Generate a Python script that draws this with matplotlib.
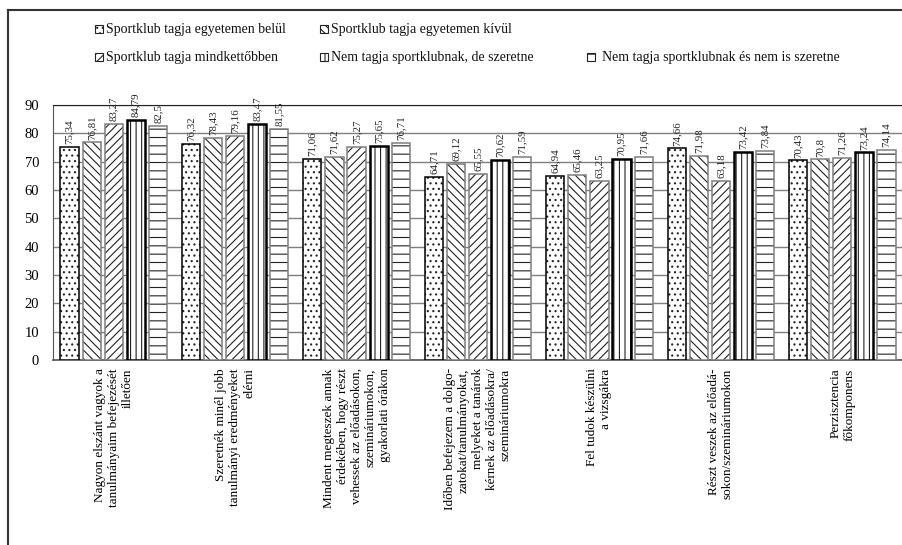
import matplotlib.pyplot as plt
from matplotlib.patches import Rectangle
from matplotlib.lines import Line2D
import numpy as np

plt.rcParams['font.family'] = ['Liberation Serif', 'DejaVu Serif']
plt.rcParams['hatch.linewidth'] = 0.8

categories = [
    'Nagyon elszánt vagyok a\ntanulmányaim befejezését\nilletően',
    'Szeretnék minél jobb\ntanulmányi eredményeket\nelérni',
    'Mindent megteszek annak\nérdekében, hogy részt\nvehessek az előadásokon,\nszemináriumokon,\ngyakorlati órákon',
    'Időben befejezem a dolgo-\nzatokat/tanulmányokat,\nmelyeket a tanárok\nkérnek az előadásokra/\nszemináriumokra',
    'Fel tudok készülni\na vizsgákra',
    'Részt veszek az előadá-\nsokon/szemináriumokon',
    'Perzisztencia\nfőkomponens',
]

series_names = [
    'Sportklub tagja egyetemen belül',
    'Sportklub tagja egyetemen kívül',
    'Sportklub tagja mindkettőbben',
    'Nem tagja sportklubnak, de szeretne',
    'Nem tagja sportklubnak és nem is szeretne',
]

belul = [75.34, 76.32, 71.06, 64.71, 64.94, 74.66, 70.43]
kivul = [76.81, 78.43, 71.62, 69.12, 65.46, 71.98, 70.8]
mindketto = [83.27, 79.16, 75.27, 65.55, 63.25, 63.18, 71.26]
nem_de = [84.79, 83.47, 75.65, 70.62, 70.95, 73.42, 73.24]
nem_nem = [82.5, 81.55, 76.71, 71.59, 71.66, 73.84, 74.14]
series = [belul, kivul, mindketto, nem_de, nem_nem]

yticks = list(range(0, 91, 10))

hatches = ['...', '\\\\\\\\', '////', '|||', '--']
edge_cols = ['black', '#7f7f7f', '#7f7f7f', 'black', '#7f7f7f']
edge_w = [1.1, 1.1, 1.1, 1.8, 1.1]

W, H = 903, 545
fig = plt.figure(figsize=(W / 100, H / 100), dpi=100)


def fx(px):
    return px / W


def fy(py):
    return 1 - py / H


ax = fig.add_axes([fx(53), fy(360), fx(903 - 53), (360 - 105) / H])

x = np.arange(len(categories))
step = 0.182
bw = 0.15
for k, vals in enumerate(series):
    pos = x + (k - 2) * step
    ax.bar(pos, vals, bw, color='white', edgecolor='#222222', hatch=hatches[k],
           linewidth=0, zorder=3)
    ax.bar(pos, vals, bw, fill=False, edgecolor=edge_cols[k],
           linewidth=edge_w[k], zorder=4)
    for xp, v in zip(pos, vals):
        ax.annotate(f'{v:g}'.replace('.', ','), (xp, v), xytext=(0, 2),
                    textcoords='offset points', rotation=90, ha='center',
                    va='bottom', fontsize=7.8, color='#222222')

ax.set_xlim(-0.5, 6.5)
ax.set_ylim(0, 90)
ax.set_yticks(yticks)
ax.set_xticks([])
ax.tick_params(axis='y', length=0, pad=10, labelsize=10.5)
ax.yaxis.grid(True, color='#7f7f7f', linewidth=1.0, zorder=0)
ax.set_axisbelow(True)
ax.spines['right'].set_visible(False)
ax.spines['top'].set_color('#222222')
ax.spines['left'].set_color('#555555')
ax.spines['bottom'].set_color('#555555')
ax.spines['bottom'].set_linewidth(1.2)

for xi, lab in zip(x, categories):
    ax.annotate(lab, (xi, 0), xytext=(0, -6), textcoords='offset points',
                rotation=90, ha='center', va='top', multialignment='right',
                fontsize=9.5, linespacing=1.22, annotation_clip=False)

# legend, drawn by hand to keep the original layout
leg_pos = [(95, 29), (320, 29), (95, 57), (320, 57), (587, 57)]
for k, (lx, ly) in enumerate(leg_pos):
    fig.patches.append(Rectangle((fx(lx), fy(ly + 4)), fx(8), 8 / H,
                                 transform=fig.transFigure, facecolor='white',
                                 edgecolor='#222222', hatch=hatches[k],
                                 linewidth=0.8))
    gap = 15 if k == 4 else 11
    fig.text(fx(lx + gap), fy(ly), series_names[k], fontsize=10,
             va='center', ha='left', color='#111111')

# outer frame
fig.add_artist(Line2D([fx(8), fx(8)], [fy(10), 0], color='#333333', linewidth=1.5))
fig.add_artist(Line2D([fx(8), 1], [fy(10), fy(10)], color='#333333', linewidth=1.5))

fig.savefig('out.png', dpi=100)
